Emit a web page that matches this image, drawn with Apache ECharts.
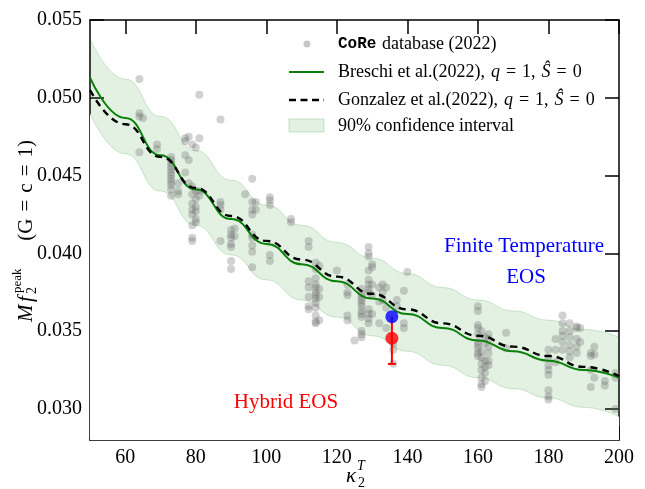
<!DOCTYPE html>
<html><head><meta charset="utf-8">
<script src="https://cdn.jsdelivr.net/npm/echarts@6/dist/echarts.min.js"></script>
<style>html,body{margin:0;padding:0;background:#fff}#c{width:645px;height:489px}</style>
</head><body><div id="c"></div>
<script>
// ---- data ----
const curveKappa = [50,60,70,80,90,100,110,120,130,140,150,160,170,180,190,200];
const breschiF  = [0.0513,0.0487,0.0463,0.0441,0.0422,0.0406,0.0393,0.0382,0.0371,0.0361,0.0352,0.0344,0.0337,0.0331,0.0325,0.0320];
const gonzalezF = [0.0505,0.0483,0.0462,0.0442,0.0424,0.0408,0.0396,0.0385,0.0374,0.0364,0.0355,0.0347,0.0340,0.0334,0.0327,0.0321];
const bandUpper = [0.0538,0.0512,0.0488,0.0466,0.0447,0.0431,0.0418,0.0407,0.0397,0.0387,0.0378,0.0370,0.0363,0.0357,0.0351,0.0346];
const bandLower = [0.0490,0.0464,0.0440,0.0418,0.0399,0.0383,0.0370,0.0359,0.0347,0.0337,0.0328,0.0320,0.0313,0.0307,0.0301,0.0295];
const corePoints = [
 [64,0.0512],[64,0.0490],[64,0.0488],[64,0.0465],[65,0.0487],
 [69,0.0470],[69,0.0467],
 [73,0.0462],[73,0.0460],[73,0.0458],[73,0.0456],[73,0.0454],[73,0.0452],[73,0.0450],[73,0.0448],[73,0.0446],[73,0.0444],[73,0.0441],[73,0.0437],
 [75,0.0445],[75,0.0440],[75,0.0438],
 [77,0.0474],[77,0.0472],[77,0.0463],[77,0.0452],[78,0.0475],[78,0.0460],[78,0.0445],
 [79,0.0470],[79,0.0443],[79,0.0438],[79,0.0432],[79,0.0428],[79,0.0425],[79,0.0418],[79,0.0410],[79,0.0408],
 [80,0.0468],[80,0.0440],[80,0.0435],[80,0.0430],[80,0.0427],[80,0.0422],[80,0.0420],
 [81,0.0502],[81,0.0474],[81,0.0440],[81,0.0437],
 [87,0.0486],[87,0.0433],[87,0.0431],[87,0.0428],[87,0.0408],
 [90,0.0415],[90,0.0412],[90,0.0410],[90,0.0406],[90,0.0404],[90,0.0395],[90,0.0390],[91,0.0416],[91,0.0411],
 [94,0.0438],
 [96,0.0448],[96,0.0433],[96,0.0428],[96,0.0425],[96,0.0412],[96,0.0410],[96,0.0405],[96,0.0401],[96,0.0391],[97,0.0433],[97,0.0428],
 [101,0.0436],[101,0.0434],[101,0.0431],[101,0.0399],[101,0.0395],
 [107,0.0422],[107,0.0420],
 [112,0.0408],[112,0.0404],[112,0.0382],[112,0.0378],[112,0.0372],[112,0.0366],[112,0.0364],
 [114,0.0394],[114,0.0390],[114,0.0384],[114,0.0380],[114,0.0378],[114,0.0375],[114,0.0373],[114,0.0371],[114,0.0368],[114,0.0365],[114,0.0360],[114,0.0356],[114,0.0355],
 [115,0.0392],[115,0.0377],[115,0.0372],[115,0.0357],
 [120,0.0389],
 [123,0.0380],[123,0.0375],[123,0.0373],[123,0.0360],[123,0.0357],[125,0.0344],
 [127,0.0377],[127,0.0374],[127,0.0372],[127,0.0370],[127,0.0368],[127,0.0366],[127,0.0363],[127,0.0361],[127,0.0359],[127,0.0350],[127,0.0348],[127,0.0346],
 [129,0.0404],[129,0.0400],[129,0.0398],[129,0.0389],[129,0.0383],[129,0.0380],[129,0.0377],[129,0.0375],[129,0.0364],[129,0.0361],[129,0.0358],[129,0.0355],
 [130,0.0393],[130,0.0391],[130,0.0380],[130,0.0373],[130,0.0361],
 [132,0.0378],[132,0.0369],[132,0.0355],[133,0.0380],[133,0.0375],[133,0.0370],
 [134,0.0378],[134,0.0365],[134,0.0352],
 [136,0.0342],[136,0.0338],[136,0.0329],[137,0.0370],[137,0.0366],
 [139,0.0376],[139,0.0355],[139,0.0352],[140,0.0388],
 [160,0.0366],[160,0.0363],[160,0.0354],[160,0.0352],[160,0.0348],[160,0.0343],[160,0.0341],[160,0.0339],[160,0.0336],[160,0.0334],
 [161,0.0350],[161,0.0337],[161,0.0333],[161,0.0329],[161,0.0325],[161,0.0320],[161,0.0316],[161,0.0314],
 [162,0.0346],[162,0.0342],[162,0.0331],[162,0.0327],[162,0.0323],[162,0.0318],
 [163,0.0348],[163,0.0345],[163,0.0340],[163,0.0336],[163,0.0331],[163,0.0328],
 [168,0.0349],[168,0.0339],
 [180,0.0338],[180,0.0333],[180,0.0328],[180,0.0325],[180,0.0322],[180,0.0312],[180,0.0308],[180,0.0306],
 [182,0.0345],[182,0.0338],[182,0.0330],
 [184,0.0360],[184,0.0355],[184,0.0350],[184,0.0347],[184,0.0343],[184,0.0338],
 [186,0.0355],[186,0.0350],[186,0.0346],[186,0.0341],[186,0.0337],[186,0.0333],
 [188,0.0353],[188,0.0352],[188,0.0345],[188,0.0340],[188,0.0336],[189,0.0352],[189,0.0343],
 [192,0.0336],[192,0.0334],[192,0.0325],[192,0.0314],[193,0.0340],[193,0.0335],[193,0.0320],
 [196,0.0315],[196,0.0318],[199,0.0323],[199,0.0320],[199,0.0300]
];
const finiteTempPoint = [135.6, 0.03593];
const hybridPoint = [135.6, 0.03454];
const hybridErrLow = 0.03289;
const hybridErrHigh = 0.03593;
const xTicks = [60,80,100,120,140,160,180,200];
const yTicks = [0.030,0.035,0.040,0.045,0.050,0.055];

const zip = (xs, ys) => xs.map((x, i) => [x, ys[i]]);
const SERIF = '"Liberation Serif", "DejaVu Serif", serif';

const chart = echarts.init(document.getElementById('c'), null, {renderer: 'canvas'});

function axisCommon(show) {
  return {
    axisLine: {show: true, onZero: false, lineStyle: {color: '#000', width: 1.5}},
    axisTick: {show: true, inside: true, length: 14, lineStyle: {color: '#000', width: 1.5}},
    splitLine: {show: false}
  };
}

const option = {
  animation: false,
  backgroundColor: '#fff',
  grid: {left: 90, right: 26, top: 20, bottom: 49, containLabel: false},
  xAxis: [
    Object.assign({type: 'value', min: 50, max: 200, position: 'bottom',
      axisLabel: {show: true, customValues: xTicks, margin: 8, color: '#000', fontFamily: SERIF, fontSize: 20}},
      axisCommon(), {axisTick: {show: true, inside: true, length: 14, customValues: xTicks, lineStyle: {color: '#000', width: 1.5}}}),
    Object.assign({type: 'value', min: 50, max: 200, position: 'top',
      axisLabel: {show: false}}, axisCommon(),
      {axisTick: {show: true, inside: true, length: 14, customValues: xTicks, lineStyle: {color: '#000', width: 1.5}}})
  ],
  yAxis: [
    Object.assign({type: 'value', min: 0.028, max: 0.055, position: 'left',
      axisLabel: {show: true, customValues: yTicks, margin: 8, color: '#000', fontFamily: SERIF, fontSize: 20,
        formatter: v => v.toFixed(3)}}, axisCommon(),
      {axisTick: {show: true, inside: true, length: 14, customValues: yTicks, lineStyle: {color: '#000', width: 1.5}}}),
    Object.assign({type: 'value', min: 0.028, max: 0.055, position: 'right',
      axisLabel: {show: false}}, axisCommon(),
      {axisTick: {show: true, inside: true, length: 14, customValues: yTicks, lineStyle: {color: '#000', width: 1.5}}})
  ],
  series: [
    { // confidence band: upper curve filled down
      type: 'line', name: 'band-upper', data: zip(curveKappa, bandUpper), smooth: true, smoothMonotone: 'x',
      symbol: 'none', z: 1, silent: true,
      lineStyle: {color: 'rgba(0,128,0,0.18)', width: 1},
      areaStyle: {color: 'rgba(0,128,0,0.11)', origin: 'start', opacity: 1}
    },
    { // lower curve: clear the fill below
      type: 'line', name: 'band-lower', data: zip(curveKappa, bandLower), smooth: true, smoothMonotone: 'x',
      symbol: 'none', z: 1, silent: true,
      lineStyle: {color: 'rgba(0,128,0,0.18)', width: 1},
      areaStyle: {color: '#ffffff', origin: 'start', opacity: 1}
    },
    {
      type: 'scatter', name: 'CoRe database (2022)', data: corePoints, symbolSize: 8, z: 3,
      itemStyle: {color: 'rgba(105,105,105,0.38)'}
    },
    {
      type: 'line', name: 'Breschi', data: zip(curveKappa, breschiF), smooth: true, smoothMonotone: 'x',
      symbol: 'none', z: 4, lineStyle: {color: '#0a800a', width: 2}
    },
    {
      type: 'line', name: 'Gonzalez', data: zip(curveKappa, gonzalezF), smooth: true, smoothMonotone: 'x',
      symbol: 'none', z: 5, lineStyle: {color: '#000', width: 2.4, type: [7, 5]}
    },
    { // error bar for hybrid EOS
      type: 'custom', z: 6, data: [[hybridPoint[0], hybridErrLow, hybridErrHigh]],
      renderItem: function (params, api) {
        const lo = api.coord([api.value(0), api.value(1)]);
        const hi = api.coord([api.value(0), api.value(2)]);
        return {type: 'group', children: [
          {type: 'line', shape: {x1: lo[0], y1: lo[1], x2: hi[0], y2: hi[1]}, style: {stroke: '#ff0000', lineWidth: 2}},
          {type: 'line', shape: {x1: lo[0] - 4, y1: lo[1], x2: lo[0] + 4, y2: lo[1]}, style: {stroke: '#ff0000', lineWidth: 2}}
        ]};
      }
    },
    {
      type: 'scatter', name: 'Hybrid', data: [hybridPoint], symbolSize: 13, z: 7,
      itemStyle: {color: '#ff0000'}
    },
    {
      type: 'scatter', name: 'Finite T', data: [finiteTempPoint], symbolSize: 13, z: 7,
      itemStyle: {color: '#0000ff'}
    }
  ],
  graphic: [
    // legend
    {type: 'circle', shape: {cx: 307, cy: 44, r: 3.5}, style: {fill: 'rgba(105,105,105,0.38)'}, z: 100},
    {type: 'text', x: 338, y: 44, z: 100, style: {text: 'CoRe', font: 'bold 16px "Liberation Mono", "DejaVu Sans Mono", monospace', fill: '#000', align: 'left', verticalAlign: 'middle', textAlign: 'left', textVerticalAlign: 'middle'}},
    {type: 'text', x: 382, y: 44, z: 100, style: {text: 'database (2022)', font: '18px ' + SERIF, fill: '#000', align: 'left', verticalAlign: 'middle', textAlign: 'left', textVerticalAlign: 'middle'}},
    {type: 'line', shape: {x1: 289, y1: 72, x2: 324, y2: 72}, style: {stroke: '#0a800a', lineWidth: 2}, z: 100},
    {type: 'text', x: 338, y: 72, z: 100, style: {
      text: '{r|Breschi et al.(2022),\u2004}{i|q}{r|\u2004=\u20041,\u2004}{i|Ŝ}{r|\u2004=\u20040}',
      rich: {r: {font: '18px ' + SERIF, fill: '#000'}, i: {font: 'italic 18px ' + SERIF, fill: '#000'}},
      font: '18px ' + SERIF, fill: '#000', align: 'left', verticalAlign: 'middle', textAlign: 'left', textVerticalAlign: 'middle'}},
    {type: 'line', shape: {x1: 289, y1: 100, x2: 324, y2: 100}, style: {stroke: '#000', lineWidth: 2.4, lineDash: [7, 4.5]}, z: 100},
    {type: 'text', x: 338, y: 100, z: 100, style: {
      text: '{r|Gonzalez et al.(2022),\u2004}{i|q}{r|\u2004=\u20041,\u2004}{i|Ŝ}{r|\u2004=\u20040}',
      rich: {r: {font: '18px ' + SERIF, fill: '#000'}, i: {font: 'italic 18px ' + SERIF, fill: '#000'}},
      font: '18px ' + SERIF, fill: '#000', align: 'left', verticalAlign: 'middle', textAlign: 'left', textVerticalAlign: 'middle'}},
    {type: 'rect', shape: {x: 289, y: 119, width: 35, height: 13}, style: {fill: 'rgba(0,128,0,0.11)', stroke: 'rgba(0,128,0,0.18)', lineWidth: 1}, z: 100},
    {type: 'text', x: 338, y: 126, z: 100, style: {text: '90% confidence interval', font: '18px ' + SERIF, fill: '#000', align: 'left', verticalAlign: 'middle', textAlign: 'left', textVerticalAlign: 'middle'}},
    // annotations
    {type: 'text', x: 524, y: 246, z: 100, style: {text: 'Finite Temperature', font: '21px ' + SERIF, fill: '#0000ff', align: 'center', verticalAlign: 'middle', textAlign: 'center', textVerticalAlign: 'middle'}},
    {type: 'text', x: 526, y: 277, z: 100, style: {text: 'EOS', font: '21px ' + SERIF, fill: '#0000ff', align: 'center', verticalAlign: 'middle', textAlign: 'center', textVerticalAlign: 'middle'}},
    {type: 'text', x: 286, y: 402, z: 100, style: {text: 'Hybrid EOS', font: '21px ' + SERIF, fill: '#ff0000', align: 'center', verticalAlign: 'middle', textAlign: 'center', textVerticalAlign: 'middle'}},
    // x axis title  kappa_2^T
    {type: 'text', x: 351, y: 476, z: 100, style: {text: 'κ', font: 'italic 21px ' + SERIF, fill: '#000', align: 'center', verticalAlign: 'middle', textAlign: 'center', textVerticalAlign: 'middle'}},
    {type: 'text', x: 358, y: 483, z: 100, style: {text: '2', font: '14px ' + SERIF, fill: '#000', align: 'left', verticalAlign: 'middle', textAlign: 'left', textVerticalAlign: 'middle'}},
    {type: 'text', x: 357, y: 466, z: 100, style: {text: 'T', font: 'italic 14px ' + SERIF, fill: '#000', align: 'left', verticalAlign: 'middle', textAlign: 'left', textVerticalAlign: 'middle'}},
    // y axis title  M f_2^peak (G = c = 1)
    {type: 'group', x: 26, y: 231, rotation: Math.PI / 2, z: 100, children: [
      {type: 'text', x: -91, y: 0, style: {text: 'M', font: 'italic 21px ' + SERIF, fill: '#000', align: 'left', verticalAlign: 'middle', textAlign: 'left', textVerticalAlign: 'middle'}},
      {type: 'text', x: -71, y: 0, style: {text: 'f', font: 'italic 21px ' + SERIF, fill: '#000', align: 'left', verticalAlign: 'middle', textAlign: 'left', textVerticalAlign: 'middle'}},
      {type: 'text', x: -63, y: 6, style: {text: '2', font: '14px ' + SERIF, fill: '#000', align: 'left', verticalAlign: 'middle', textAlign: 'left', textVerticalAlign: 'middle'}},
      {type: 'text', x: -62, y: -8, style: {text: 'peak', font: '13px ' + SERIF, fill: '#000', align: 'left', verticalAlign: 'middle', textAlign: 'left', textVerticalAlign: 'middle'}},
      {type: 'text', x: 91, y: 0, style: {text: '(G\u2004=\u2004c\u2004=\u20041)', font: '21px ' + SERIF, fill: '#000', align: 'right', verticalAlign: 'middle', textAlign: 'right', textVerticalAlign: 'middle'}}
    ]}
  ]
};
chart.setOption(option);
</script>
</body></html>
